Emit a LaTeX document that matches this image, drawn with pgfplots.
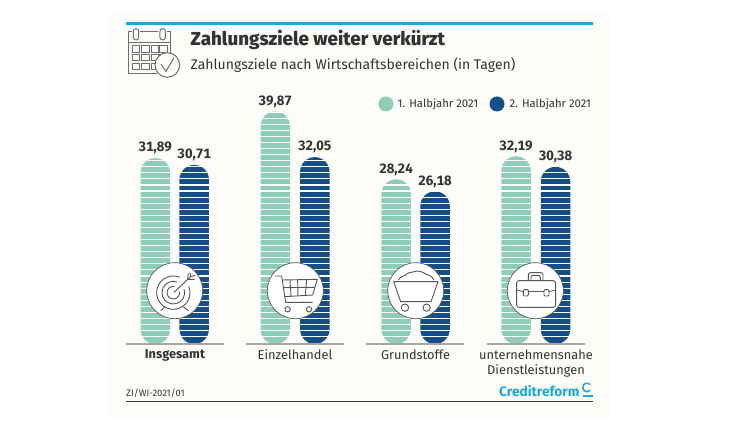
\documentclass[border=0pt]{standalone}
\usepackage{fontspec}
\setmainfont{Fira Sans}[Numbers=Proportional]
\newfontfamily\heavy{Fira Sans ExtraBold}
\newfontfamily\tabbold{Fira Sans Bold}
\usepackage{pgfplots}
\usepackage{pgfplotstable}
\pgfplotsset{compat=1.18}

\definecolor{panel}{HTML}{FDFCF8}
\definecolor{mint}{HTML}{8DCDB9}
\definecolor{navy}{HTML}{164F88}
\definecolor{skyline}{HTML}{1AA7E0}
\definecolor{ink}{HTML}{333333}
\definecolor{iconc}{HTML}{555555}

% x = pixel position of the bar, y = days
\pgfplotstableread{
x     y
155.3 31.89
275.3 39.87
396.1 28.24
516.0 32.19
}\halfone
\pgfplotstableread{
x     y
194.2 30.71
314.8 32.05
435.0 26.18
555.5 30.38
}\halftwo

\newcommand{\fs}[1]{\fontsize{#1bp}{#1bp}\selectfont}

\begin{document}
\begin{tikzpicture}[x=1bp,y=1bp]
\fill[white] (0,0) rectangle (750,422);
\fill[panel] (108,4) rectangle (610,410);

\begin{axis}[
  at={(0,0)}, anchor=south west,
  scale only axis, width=750bp, height=422bp,
  xmin=0, xmax=750, ymin=-13.38, ymax=59.0,
  clip=false,
  axis x line=middle, axis y line=none,
  x axis line style={draw=none,-},
  ytick=\empty,
  xtick={175,295,415.5,536},
  xticklabels={\textbf{Insgesamt},Einzelhandel,Grundstoffe,{unternehmensnahe\\Dienstleistungen}},
  x tick style={draw=none},
  xticklabel style={font=\fontsize{12.8bp}{15bp}\selectfont, text=ink, align=center, anchor=north, yshift=0bp},
  /pgf/number format/assume math mode=true,
]
\addplot[ybar, bar shift=0pt, bar width=29.5bp, fill=mint, draw=none, rounded corners=14.7bp] table[x=x,y=y] {\halfone};
\addplot[ybar, bar shift=0pt, bar width=29.5bp, fill=navy, draw=none, rounded corners=14.7bp] table[x=x,y=y] {\halftwo};

% white stripes over the bars
\pgfplotsinvokeforeach{0,...,37}{
  \draw[panel, line width=1.1bp] (axis cs:135,{1.25+1.041*#1}) -- (axis cs:575,{1.25+1.041*#1});
}

% base lines
\addplot[color=black!35, line width=1.7bp] coordinates {(126,0)(224,0)};
\addplot[color=black!35, line width=1.7bp] coordinates {(246,0)(344,0)};
\addplot[color=black!35, line width=1.7bp] coordinates {(366,0)(464,0)};
\addplot[color=black!35, line width=1.7bp] coordinates {(487,0)(585,0)};

% value labels
\pgfplotsset{vals/.style={only marks, mark=none, nodes near coords,
  nodes near coords align={anchor=south},
  nodes near coords style={font=\fs{13.5}\tabbold\addfontfeature{Numbers=Monospaced}, text=ink, yshift=0.3bp,
    /pgf/number format/.cd, use comma, fixed, fixed zerofill, precision=2}}}
\addplot[vals] table[x=x,y=y] {\halfone};
\addplot[vals] table[x=x,y=y] {\halftwo};
\end{axis}

% everything below is typed in reference pixels, y pointing down
\begin{scope}[yshift=422bp, x=1bp, y=-1bp]
\draw[skyline, line width=2.2bp] (126,23.5) -- (592.5,23.5);
\draw[ink, line width=1bp] (126,401) -- (592.5,401);

\node[anchor=west, inner sep=0pt, text=ink] at (190.5,39.5) {\fs{18.8}\heavy Zahlungsziele weiter verkürzt};
\node[anchor=west, inner sep=0pt, text=ink] at (190.5,65) {\fs{14}Zahlungsziele nach Wirtschaftsbereichen (in Tagen)};
\node[anchor=west, inner sep=0pt, text=ink] at (126,393.5) {\fs{9.4}ZI/WI-2021/01};

% legend
\fill[mint] (386,104) circle[radius=7.5];
\fill[navy] (497,104) circle[radius=7.5];
\node[anchor=west, inner sep=0pt, text=ink] at (397.5,104) {\fs{11.3}1. Halbjahr 2021};
\node[anchor=west, inner sep=0pt, text=ink] at (509.5,104) {\fs{11.3}2. Halbjahr 2021};

% logo
\node[anchor=west, inner sep=0pt, text=skyline] at (499,391.5) {\fs{13.7}\bfseries Creditreform};
\draw[skyline, line width=1.5bp] (587,387.5) ++(40:4.3) arc[start angle=40, end angle=320, radius=4.3];
\draw[skyline, line width=1.5bp] (582.5,396) -- (592.5,396);

% icon circles
\foreach \cx in {174.7,295.3,415.7,535.3}
  \draw[fill=white, draw=iconc, line width=.7bp] (\cx,290.7) circle[radius=28];

% calendar
\begin{scope}[shift={(110,10)}, x=.3333bp, y=-.3333bp, draw=iconc!85, line width=1bp]
  \draw (90,65) -- (145,65);
  \draw (65,65) -- (55,65) -- (55,192) -- (140,192);
  \draw (170,65) -- (182,65) -- (182,130);
  \draw (55,97) -- (182,97);
  \draw[rounded corners=2.5bp] (70,56) rectangle (86,90);
  \draw[rounded corners=2.5bp] (150,56) rectangle (166,90);
  \foreach \r in {108,134,160} \foreach \c in {68,96,124,150}
    \draw (\c,\r) rectangle ++(22,19);
  \fill[panel] (172,165) circle[radius=38];
  \draw[line width=1bp] (172,165) circle[radius=37];
  \draw[line width=1bp] (153,163) -- (168,184) -- (192,143);
\end{scope}

% target
\begin{scope}[shift={(120,250)}, x=.3333bp, y=-.3333bp, draw=iconc, line width=.9bp]
  \draw (160,128) ++(-22:50) arc[start angle=-22, end angle=292, radius=50];
  \draw (160,128) ++(-18:34) arc[start angle=-18, end angle=288, radius=34];
  \draw (160,128) ++(-10:19) arc[start angle=-10, end angle=280, radius=19];
  \draw (162,127) -- (212,80);
  \draw (205,70) -- (203,88) -- (224,88);
  \draw (212,80) -- (210,68);
  \draw (212,80) -- (226,76);
  \draw (135,170) -- (122,182);
  \draw (190,170) -- (205,182);
\end{scope}

% cart
\begin{scope}[shift={(120,250)}, x=.3333bp, y=-.3333bp, draw=iconc, line width=.9bp]
  \draw (465,78) -- (485,78) -- (497,157) -- (578,157);
  \draw (487,90) -- (592,88) -- (578,135) -- (494,140);
  \draw (489,113) -- (584,112);
  \foreach \a/\b in {510/513,533/534,560/556} \draw (\a,90) -- (\b,138);
  \draw (503,178) circle[radius=8];
  \draw (567,178) circle[radius=8];
\end{scope}

% coal wagon
\begin{scope}[shift={(360,250)}, x=.3333bp, y=-.3333bp, draw=iconc, line width=.9bp]
  \draw[line join=round] (101,95) -- (234,95) -- (213,155) -- (122,155) -- cycle;
  \draw (115,90) .. controls (120,78) and (135,80) .. (140,72)
        .. controls (150,65) and (160,68) .. (170,63)
        .. controls (185,62) and (195,72) .. (205,75)
        .. controls (212,78) and (220,82) .. (222,90);
  \draw (135,173) circle[radius=11];
  \draw (200,173) circle[radius=11];
\end{scope}

% briefcase
\begin{scope}[shift={(360,250)}, x=.3333bp, y=-.3333bp, draw=iconc, line width=.9bp]
  \draw[rounded corners=2.5bp] (470,92) rectangle (587,172);
  \draw[rounded corners=2bp] (505,92) -- (505,68) -- (549,68) -- (549,92);
  \draw[rounded corners=1.5bp] (513,92) -- (513,76) -- (541,76) -- (541,92);
  \draw (470,120) -- (490,125);
  \draw (505,125) -- (552,125);
  \draw (567,125) -- (587,120);
  \draw[rounded corners=1bp] (490,119) rectangle (505,138);
  \draw[rounded corners=1bp] (552,119) rectangle (567,138);
\end{scope}
\end{scope}
\end{tikzpicture}
\end{document}
